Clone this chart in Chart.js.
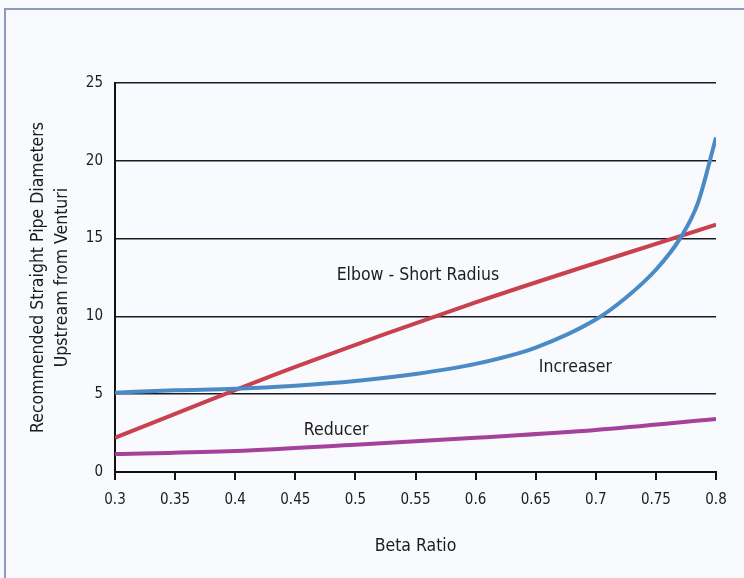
<!DOCTYPE html>
<html>
<head>
<meta charset="utf-8">
<script src="https://cdn.jsdelivr.net/npm/chart.js@4.4.1/dist/chart.umd.min.js"></script>
<style>
  html, body { margin: 0; padding: 0; background: #f8fafd; }
  #wrap {
    position: relative; width: 744px; height: 578px; overflow: hidden;
    background: #f8fafd;
  }
  #frame {
    position: absolute; left: 4px; top: 8px; right: -10px; bottom: -10px;
    border-left: 2px solid #8a9bbb; border-top: 2px solid #8a9bbb;
  }
  canvas { position: absolute; left: 0; top: 0; }
</style>
</head>
<body>
<div id="wrap">
  <div id="frame"></div>
  <canvas id="ventChart" width="744" height="578"></canvas>
</div>
<script>
'use strict';

// ---- data ----
const betaTicks = [0.3, 0.35, 0.4, 0.45, 0.5, 0.55, 0.6, 0.65, 0.7, 0.75, 0.8];
const yTicks = [0, 5, 10, 15, 20, 25];

const elbowX = [0.3, 0.45, 0.6, 0.8];
const elbowY = [2.2, 6.75, 10.9, 15.9];

const increaserX = [0.3, 0.35, 0.4, 0.45, 0.5, 0.55, 0.6, 0.65, 0.7, 0.725, 0.75, 0.77, 0.785, 0.8];
const increaserY = [5.1, 5.25, 5.35, 5.55, 5.85, 6.3, 6.95, 8.0, 9.8, 11.2, 13.0, 15.0, 17.3, 21.5];

const reducerX = [0.3, 0.4, 0.5, 0.6, 0.7, 0.8];
const reducerY = [1.15, 1.35, 1.75, 2.2, 2.7, 3.4];

const curveLabels = [
  { text: 'Elbow - Short Radius', x: 0.552, y: 12.6 },
  { text: 'Increaser', x: 0.683, y: 6.75 },
  { text: 'Reducer', x: 0.484, y: 2.7 },
];

const FONT = "'Liberation Sans Narrow', 'DejaVu Sans Condensed', 'Open Sans', sans-serif";

function pts(xs, ys) {
  return xs.map((x, i) => ({ x: x, y: ys[i] }));
}

// ---- in-plot curve labels ----
const curveLabelPlugin = {
  id: 'curveLabels',
  afterDatasetsDraw(chart) {
    const { ctx, scales } = chart;
    ctx.save();
    ctx.fillStyle = '#1c1c1c';
    ctx.font = '17.5px ' + FONT;
    ctx.textAlign = 'center';
    ctx.textBaseline = 'middle';
    curveLabels.forEach(l => {
      ctx.fillText(l.text, scales.x.getPixelForValue(l.x), scales.y.getPixelForValue(l.y));
    });
    ctx.restore();
  },
};

function lineSet(label, data, color) {
  return {
    label: label,
    data: data,
    borderColor: color,
    backgroundColor: color,
    borderWidth: 4,
    pointRadius: 0,
    cubicInterpolationMode: 'monotone',
    fill: false,
  };
}

new Chart(document.getElementById('ventChart'), {
  type: 'line',
  data: {
    datasets: [
      lineSet('Reducer', pts(reducerX, reducerY), '#a5409b'),
      lineSet('Increaser', pts(increaserX, increaserY), '#4a8bc6'),
      lineSet('Elbow - Short Radius', pts(elbowX, elbowY), '#c9404f'),
    ],
  },
  options: {
    responsive: false,
    animation: false,
    layout: { padding: { top: 83, right: 28, left: 0, bottom: 0 } },
    plugins: {
      legend: { display: false },
      tooltip: { enabled: false },
    },
    scales: {
      x: {
        type: 'linear',
        min: 0.3,
        max: 0.8,
        afterBuildTicks: s => { s.ticks = betaTicks.map(v => ({ value: v })); },
        afterFit: s => { s.height = 106; },
        grid: { drawOnChartArea: false, drawTicks: true, tickLength: 8, color: '#111', lineWidth: 2 },
        border: { display: true, color: '#111', width: 2 },
        ticks: {
          color: '#1c1c1c',
          padding: 11,
          maxRotation: 0,
          font: { size: 15, family: FONT },
          callback: v => String(v),
        },
        title: {
          display: true,
          text: 'Beta Ratio',
          color: '#1c1c1c',
          font: { size: 17.5, family: FONT },
          padding: { top: 0, bottom: 21 },
        },
      },
      y: {
        min: 0,
        max: 25,
        afterBuildTicks: s => { s.ticks = yTicks.map(v => ({ value: v })); },
        afterFit: s => { s.width = 115; },
        grid: { drawTicks: false, color: '#1a1a28', lineWidth: 1.5 },
        border: { display: true, color: '#111', width: 2 },
        ticks: {
          color: '#1c1c1c',
          padding: 12,
          font: { size: 15, family: FONT },
        },
        title: {
          display: true,
          text: ['Recommended Straight Pipe Diameters', 'Upstream from Venturi'],
          color: '#1c1c1c',
          font: { size: 17.5, family: FONT, lineHeight: 1.4 },
          padding: { top: 26, bottom: 0 },
        },
      },
    },
  },
  plugins: [curveLabelPlugin],
});
</script>
</body>
</html>
